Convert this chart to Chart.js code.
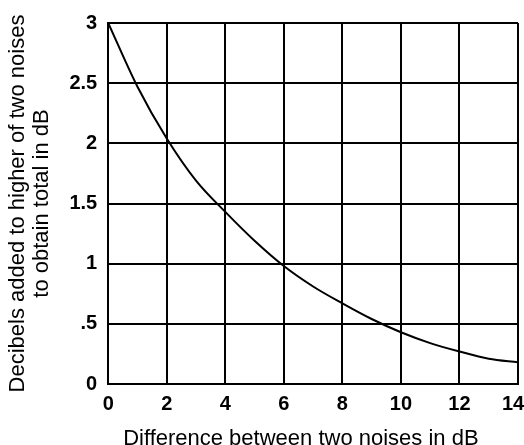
<!DOCTYPE html>
<html>
<head>
  <meta charset="utf-8" />
  <title>Adding two noises</title>
  <script src="https://cdn.jsdelivr.net/npm/chart.js"></script>
  <style>
    html, body { margin: 0; padding: 0; background: #fff; }
    #wrap { width: 524px; height: 445px; }
  </style>
</head>
<body>
  <div id="wrap"><canvas id="noiseChart" width="524" height="445"></canvas></div>
  <script>
    // difference between the two noises (dB)
    const diffDb = [0, 1, 2, 3, 4, 5, 6, 7, 8, 9, 10, 11, 12, 13, 14];
    // dB added to the higher noise
    const addedDb = [3.0, 2.47, 2.04, 1.69, 1.43, 1.19, 0.98, 0.81, 0.67, 0.54, 0.43, 0.34, 0.27, 0.21, 0.18];
    const yTickLabels = { 0: '0', 0.5: '.5', 1: '1', 1.5: '1.5', 2: '2', 2.5: '2.5', 3: '3' };

    const fontFamily = '"Liberation Sans", Arial, Helvetica, sans-serif';
    const points = diffDb.map((d, i) => ({ x: d, y: addedDb[i] }));

    new Chart(document.getElementById('noiseChart').getContext('2d'), {
      type: 'line',
      data: {
        datasets: [{
          data: points,
          borderColor: '#000',
          borderWidth: 2,
          pointRadius: 0,
          fill: false,
          cubicInterpolationMode: 'monotone'
        }]
      },
      options: {
        responsive: false,
        animation: false,
        layout: { padding: { top: 22, right: 0, left: 6, bottom: -5 } },
        plugins: { legend: { display: false }, tooltip: { enabled: false } },
        scales: {
          x: {
            type: 'linear',
            min: 0, max: 14,
            ticks: {
              stepSize: 2,
              color: '#000',
              padding: 10,
              font: { family: fontFamily, size: 20, weight: 'bold', lineHeight: 1 },
              // nudge the last label in so it stays on the canvas
              callback: v => (v === 14 ? '14\u2002' : String(v))
            },
            grid: { color: '#000', lineWidth: 2, drawTicks: false },
            border: { color: '#000', width: 2 },
            title: {
              display: true,
              // trailing spaces move the centred title a little left, like the original
              text: 'Difference between two noises in dB    ',
              color: '#000',
              padding: { top: 4, bottom: 0 },
              font: { family: fontFamily, size: 22, lineHeight: 1 }
            },
            afterFit: s => { s.paddingRight = 6; }
          },
          y: {
            min: 0, max: 3,
            ticks: {
              stepSize: 0.5,
              color: '#000',
              padding: 11,
              font: { family: fontFamily, size: 20, weight: 'bold' },
              callback: v => yTickLabels[v]
            },
            grid: { color: '#000', lineWidth: 2, drawTicks: false },
            border: { color: '#000', width: 2 },
            title: {
              display: true,
              text: ['Decibels added to higher of two noises', 'to obtain total in dB'],
              color: '#000',
              padding: { top: 0, bottom: 4 },
              font: { family: fontFamily, size: 22, lineHeight: 1.1 }
            }
          }
        }
      }
    });
  </script>
</body>
</html>
